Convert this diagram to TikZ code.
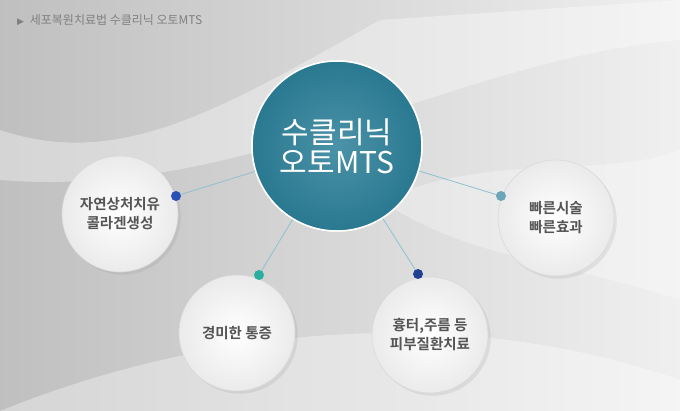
\documentclass[tikz,border=0pt]{standalone}
\usepackage{fontspec}
\setmainfont{Noto Sans CJK KR}
\newfontfamily\kb{Noto Sans CJK KR Bold}
\usetikzlibrary{shadows}
\definecolor{bgc}{HTML}{D9D9D9}
\definecolor{txt}{HTML}{555555}
\definecolor{teal1}{HTML}{2B7F98}
\definecolor{dblue}{HTML}{2850B4}
\definecolor{dteal}{HTML}{2AAE9E}
\definecolor{lnc}{HTML}{8FC0D0}
\tikzset{
 small/.style={circle,minimum size=116pt,inner sep=0pt,draw=black!15,line width=0.6pt,
   inner color=white,outer color=black!8,text=txt,font=\kb\fontsize{14.5pt}{19pt}\selectfont,align=center},
 big/.style={circle,minimum size=170pt,inner sep=0pt,draw=white,line width=1.5pt,
   inner color=teal1!85!white,outer color=teal1!95!black,text=white,font=\fontsize{30pt}{36pt}\selectfont,align=center},
 dot/.style={circle,minimum size=10pt,inner sep=0pt},
 link/.style={draw=lnc,line width=0.8pt}
}
\begin{document}
\begin{tikzpicture}[x=1pt,y=-1pt]
\fill[bgc] (0,0) rectangle (680,411);
\shade[left color=black!25,right color=white!60!bgc] (0,0) rectangle (680,411);
\fill[white,opacity=0.35] (0,130) .. controls (120,170) and (220,110) .. (380,20) -- (680,0) -- (680,40) .. controls (450,60) and (250,200) .. (0,180) -- cycle;
\fill[white,opacity=0.35] (0,411) .. controls (200,330) and (450,300) .. (680,380) -- (680,411) -- cycle;
\fill[white,opacity=0.3] (380,200) .. controls (500,150) and (600,180) .. (680,150) -- (680,300) .. controls (560,260) and (470,260) .. (380,200) -- cycle;
\node[anchor=west,text=black!50,inner sep=0pt] (hdr) at (17,20) {\fontspec{DejaVu Sans}\fontsize{9pt}{11pt}\selectfont ▶\ \ \fontspec{Noto Sans CJK KR}\fontsize{12pt}{14pt}\selectfont 세포복원치료법 수클리닉 오토MTS};
\coordinate (d1) at (176,196);
\coordinate (d2) at (259,275);
\coordinate (d3) at (418,274);
\coordinate (d4) at (501,196);
\node[big] (c) at (337,146) {};
\draw[link] (c) -- (d1) (c) -- (d2) (c) -- (d3) (c) -- (d4);
\node[big,draw=none] (cc) at (337,146) {수클리닉\\[-6pt]오토MTS};
\draw[white,line width=1.5pt] (c) circle (85);
\node[small,drop shadow={opacity=0.15}] (a) at (120,214) {자연상처치유\\콜라겐생성};
\node[small,drop shadow={opacity=0.15}] (b) at (237,333) {경미한 통증};
\node[small,drop shadow={opacity=0.15}] (e) at (430,335) {흉터,주름 등\\피부질환치료};
\node[small,drop shadow={opacity=0.15}] (f) at (556,218) {빠른시술\\빠른효과};
\node[dot,fill=dblue] at (d1) {};
\node[dot,fill=dteal] at (d2) {};
\node[dot,fill=dblue!80!black] at (d3) {};
\node[dot,fill=teal1!70!white] at (d4) {};
\end{tikzpicture}
\end{document}
